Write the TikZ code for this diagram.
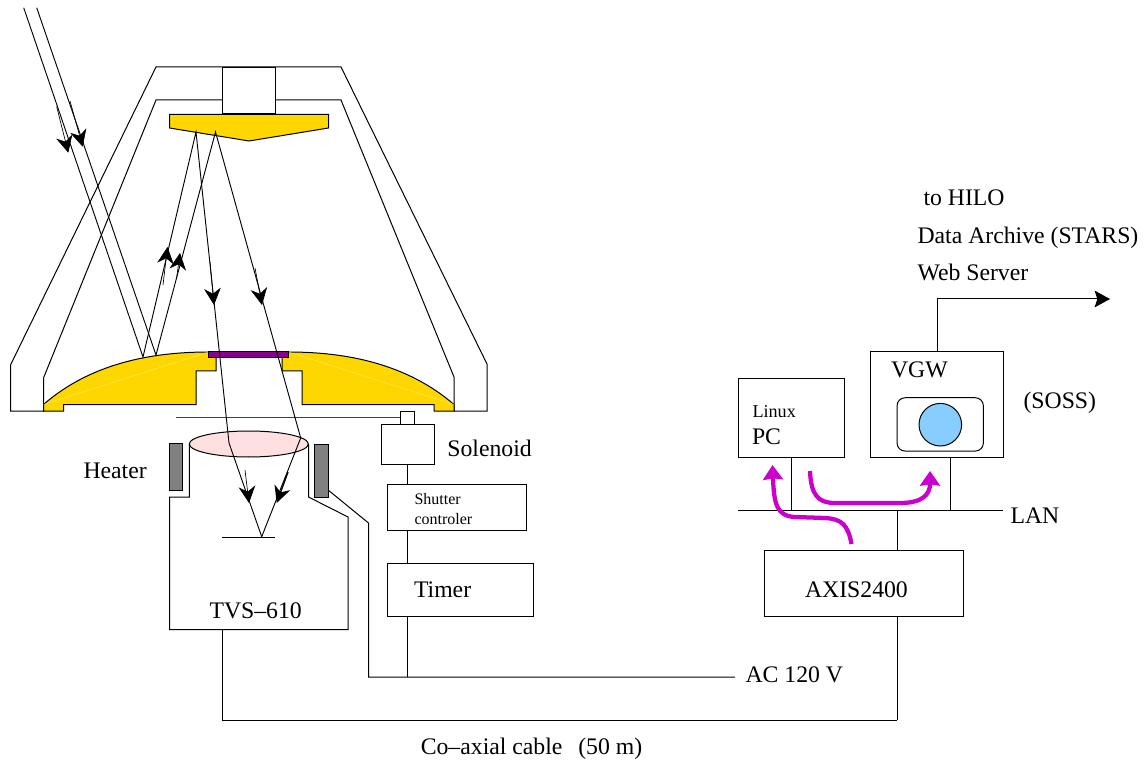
\documentclass[tikz,border=0pt]{standalone}
\usepackage{fontspec}
\setmainfont{Liberation Serif}
\usetikzlibrary{positioning,arrows.meta,shapes.geometric}
\definecolor{mirror}{HTML}{FFD700}
\definecolor{lenspink}{HTML}{FFE0E0}
\definecolor{skyblue}{HTML}{87CEFF}
\definecolor{flowpink}{HTML}{CC00CC}
\definecolor{filter}{HTML}{8B008B}
\def\px{0.75pt}

\begin{document}
\begin{tikzpicture}[x=0.75pt,y=-0.75pt,line width=0.75pt,line join=miter]
    \tikzstyle{box}=[draw,rectangle,inner sep=0pt]
    \tikzstyle{label}=[inner sep=0pt,anchor=west,font=\fontsize{17.8}{20}\selectfont]
    \tikzstyle{smalllabel}=[inner sep=0pt,anchor=west,font=\fontsize{12}{14}\selectfont]
    \tikzstyle{heater}=[box,fill=black!50]
    \tikzstyle{ray}=[line width=0.7pt]
    \tikzstyle{raytip}=[line width=0.5pt,-{Stealth[length=12.5pt,width=12.5pt,inset=4pt]}]
    \tikzstyle{flow}=[flowpink,line width=3.2pt,-{Stealth[length=11pt,width=15pt,inset=1pt]}]

    \useasboundingbox (0,0) rectangle (1148,762);

    \draw (222.5,100) -- (156,100) -- (43.5,378) -- (43.5,411) -- (10.5,411) -- (10.5,365)
        -- (156,67) -- (341,67) -- (487,364) -- (487,411) -- (454,411) -- (454,377)
        -- (341,100) -- (275.5,100);
    \node[box,minimum width=53*\px,minimum height=46.5*\px] (port) at (249,90.3) {};

    \filldraw[fill=mirror] (169.5,114.5) -- (328.5,114.5) -- (328.5,128) -- (249,141) -- (169.5,128) -- cycle;
    \filldraw[fill=mirror] (43.5,404.5) .. controls (90,364) and (150,352) .. (208.5,352) -- (216,358)
        -- (216,371) -- (196,371) -- (196,404.5) -- (63.5,404.5) -- (63.5,411) -- (43.5,411) -- cycle;
    \filldraw[fill=mirror] (454,404.5) .. controls (407,364) and (347,352) .. (288.5,352) -- (282,358)
        -- (282,371) -- (302,371) -- (302,404.5) -- (434,404.5) -- (434,411) -- (454,411) -- cycle;
    \draw[white!40!mirror,line width=0.3pt] (43.5,404.5) -- (208.5,352);
    \draw[white!40!mirror,line width=0.3pt] (454,404.5) -- (288.5,352);
    \node[box,fill=filter,minimum width=80*\px,minimum height=6*\px] (filter) at (248.5,355) {};

    \draw[black!75,line width=1pt] (176,417.7) -- (400.7,417.7);
    \node[box,minimum width=13.5*\px,minimum height=13.3*\px] (pin) at (407.5,417.7) {};
    \node[box,minimum width=53.3*\px,minimum height=40*\px] (solenoid) at (407.7,444.3) {};
    \node[box,minimum width=139.4*\px,minimum height=46.3*\px] (shutter) at (457,507.2) {};
    \node[box,minimum width=146*\px,minimum height=53*\px] (timer) at (460,589.5) {};
    \node[label] (solenoidtext) [right=12*\px of solenoid,yshift=-4*\px] {Solenoid};
    \node[smalllabel] (shuttertext) at (414,499) {Shutter};
    \node[smalllabel] (controltext) at (414,519) {controler};
    \node[label] (timertext) at (413.5,590) {Timer};

    \draw (189.3,444) -- (189.3,497) -- (169.5,497) -- (169.5,629.5) -- (348,629.5) -- (348,517)
        -- (308.5,497) -- (308.5,444);
    \node[ellipse,draw,fill=lenspink,inner sep=0pt,minimum width=119*\px,minimum height=26*\px] (lens) at (248.8,444) {};
    \node[heater,minimum width=13.5*\px,minimum height=46.7*\px] (heaterL) at (176,467.3) {};
    \node[heater,minimum width=13.5*\px,minimum height=53*\px] (heaterR) at (321.7,470.5) {};
    \node[label,anchor=east] (heatertext) [left=21.5*\px of heaterL,yshift=-3.5*\px] {Heater};
    \node[label] (tvstext) at (209,611) {TVS–610};

    \coordinate (inA) at (23.7,7.7);
    \coordinate (inB) at (36.7,7.7);
    \coordinate (hitA) at (143,357);
    \coordinate (hitB) at (156,355);
    \coordinate (secA) at (196,132);
    \coordinate (secB) at (215.5,132);
    \coordinate (lensA) at (229,443);
    \coordinate (lensB) at (300.7,438);
    \coordinate (focus) at (261.7,536.7);

    \draw[ray] (inA) -- (hitA) -- (secA) -- (lensA) -- (focus);
    \draw[ray] (inB) -- (hitB) -- (secB) -- (lensB) -- (focus);
    \draw[raytip] (56.7,106.7) -- (68.3,152.7);
    \draw[raytip] (70,101) -- (82.7,146.7);
    \draw[raytip] (163,285) -- (167.5,247);
    \draw[raytip] (176.5,279) -- (180,253);
    \draw[raytip] (210,262) -- (214,305);
    \draw[raytip] (255,268) -- (262,305);
    \draw[raytip] (245,470) -- (249,503);
    \draw[raytip,line width=1pt] (288,472) -- (276.7,503);
    \draw (222.3,537) -- (275,537);

    \coordinate (wirebend) at (368.5,523);
    \coordinate (acend) at (735,677);
    \coordinate (coaxL) at (222,720);
    \coordinate (coaxR) at (897.3,720);
    \draw (heaterR.east |- 0,490.7) -- (wirebend) -- (wirebend |- acend) -- (acend);
    \draw (solenoid.south) -- (solenoid.south |- shutter.north);
    \draw (solenoid.south |- shutter.south) -- (solenoid.south |- timer.north);
    \draw (solenoid.south |- timer.south) -- (solenoid.south |- acend);
    \draw (coaxL |- 0,629.5) -- (coaxL) -- (coaxR);
    \node[label] (actext) at (745,675) {AC 120 V};
    \node[label,anchor=center] (coaxtext) at (531.5,749) {Co–axial cable\ \ \,(50 m)};

    \node[box,minimum width=106*\px,minimum height=79.4*\px] (pc) at (791.3,418) {};
    \node[box,minimum width=132.6*\px,minimum height=106*\px] (vgw) at (937,404.7) {};
    \node[box,minimum width=198.5*\px,minimum height=66*\px] (axis) at (864.2,583) {};
    \node[draw,rectangle,rounded corners=8*\px,inner sep=0pt,minimum width=86.3*\px,minimum height=53.3*\px] (monitor) at (940.2,424.4) {};
    \node[draw,circle,fill=skyblue,inner sep=0pt,minimum size=42.6*\px] (screen) at (940.3,424.7) {};
    \node[font=\fontsize{13.6}{16}\selectfont,inner sep=0pt,anchor=west] (linuxtext) at (752,412) {Linux};
    \node[label] (pctext) at (751.5,437) {PC};
    \node[label] (vgwtext) at (890.5,370) {VGW};
    \node[label] (sosstext) at (1023,403) {(SOSS)};
    \node[label] (axistext) at (804.5,590) {AXIS2400};

    \coordinate (lanL) at (738.3,510.7);
    \coordinate (lanR) at (1003,510.7);
    \coordinate (hilo) at (1110,299);
    \draw (lanL) -- (lanR);
    \node[label] (lantext) at (1010,516) {LAN};
    \draw (791.7,457.7) -- (791.7,510.7);
    \draw (950,457.7) -- (950,510.7);
    \draw (axis.north -| coaxR) -- (coaxR |- lanL);
    \draw (axis.south -| coaxR) -- (coaxR);
    \draw[-{Stealth[length=11.5pt,width=12.5pt,inset=2pt]}] (vgw.north) -- (vgw.north |- hilo) -- (hilo);
    \node[label] (hilotext) at (923,198) {to HILO};
    \node[label] (archivetext) at (917,238) {Data Archive (STARS)};
    \node[label] (webtext) at (917,272) {Web Server};

    \draw[flow] (851.5,544) .. controls (848,525) and (842,519) .. (825,518)
        -- (795,517) .. controls (777,516) and (774,505) .. (772.5,465);
    \draw[flow] (810,471) .. controls (811,495) and (818,503) .. (835,503)
        -- (900,503) .. controls (922,503) and (930,495) .. (930,471);
\end{tikzpicture}
\end{document}
